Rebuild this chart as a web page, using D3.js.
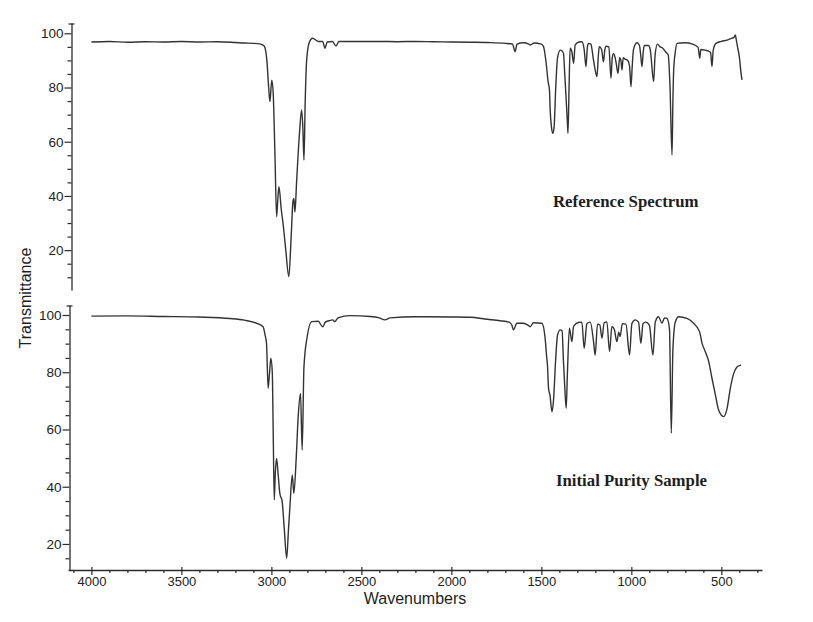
<!DOCTYPE html>
<html>
<head>
<meta charset="utf-8">
<script src="https://cdn.jsdelivr.net/npm/d3@7"></script>
<style>
  html, body { margin: 0; padding: 0; background: #ffffff; }
  svg { display: block; }
</style>
</head>
<body>
<svg id="chart" width="813" height="622"></svg>
<script>
// ---- data: [wavenumber (cm-1), transmittance (%)] ----
const referenceSpectrum = [
  [4000,96.8],[3900,97.0],[3800,96.7],[3700,96.9],[3600,96.8],[3500,97.0],[3400,96.8],[3300,96.9],[3200,96.6],
  [3150,96.4],[3100,96.3],[3060,96.0],[3040,95.3],[3025,90],[3015,80],[3008,74.8],[2998,82.7],[2990,78],
  [2980,55],[2971,32.3],[2963,40],[2958,43.4],[2945,35],[2934,29.2],[2920,20],[2903,10.2],[2890,25],[2880,38],
  [2875,39.1],[2869,34.1],[2860,45],[2845,62],[2832,71.7],[2825,65],[2819,53.2],[2812,75],[2804,90.1],
  [2790,96.5],[2771,98.2],[2740,97],[2715,97],[2702,94.5],[2690,96.8],[2660,97],[2641,95.3],[2625,97],
  [2500,97],[2400,97],[2300,96.9],[2200,97],[2100,96.9],[2000,96.8],[1900,96.7],[1800,96.6],[1700,96.3],
  [1660,96.0],[1646,93.2],[1635,96],[1600,96.5],[1570,96],[1562,95.7],[1540,96.4],[1500,96],[1488,95.1],
  [1475,90],[1462,82],[1455,79.1],[1451,71.7],[1443,65],[1436,63.1],[1429,65.5],[1420,80],[1410,91],
  [1395,93.8],[1385,93.5],[1377,92.6],[1370,85],[1364,77.9],[1356,68],[1352,63.1],[1346,80],[1340,94.5],
  [1330,93],[1321,88.9],[1312,95.7],[1290,96.8],[1275,96.9],[1262,94],[1252,87.7],[1244,95],[1238,96.3],
  [1225,96],[1210,90],[1201,86.5],[1191,84],[1183,92],[1178,95.1],[1165,94],[1155,89.5],[1147,94],[1140,95.2],
  [1125,95],[1113,83.4],[1106,91],[1099,92.5],[1090,91],[1084,88.9],[1074,85.2],[1065,91],[1058,90],
  [1052,86.5],[1045,91],[1035,90.5],[1020,90],[1010,88],[1002,80.3],[995,88],[988,94],[969,96.5],[955,95.5],
  [948,92],[941,87.7],[934,93],[928,95.5],[905,95.5],[895,94],[876,82.2],[868,92],[855,96],[840,95],
  [825,94.5],[808,93],[795,92],[785,80],[774,55.1],[769,75],[765,86],[756,93],[746,96.3],[700,96.5],
  [660,96],[629,94.8],[620,90.8],[614,94],[590,93.8],[560,93],[552,87.7],[545,93.8],[530,96.3],[500,97],
  [468,97.5],[440,98.2],[430,98.5],[422,99.4],[418,98],[410,95],[400,91.4],[390,85],[385,82.8]
];

const puritySample = [
  [4000,99.6],[3800,99.7],[3600,99.5],[3400,99.3],[3231,98.8],[3150,98.2],[3082,97.1],[3046,95.9],[3035,93],
  [3027,90.1],[3018,74.4],[3010,80],[3003,84.9],[2995,80],[2990,60],[2984,35.4],[2978,45],[2971,49.9],
  [2962,44],[2953,37.7],[2940,34.8],[2928,25],[2915,15.0],[2905,25],[2897,33.0],[2884,44.1],[2875,37.7],
  [2862,50],[2851,64.5],[2838,72.6],[2829,52.8],[2819,81.9],[2801,92.4],[2776,97.7],[2740,97.8],[2715,95.9],
  [2700,97.5],[2680,98],[2660,98.3],[2647,97.7],[2630,99],[2563,99.8],[2450,99.5],[2400,99],[2369,98.3],
  [2340,99],[2200,99.4],[2000,99.3],[1896,99.2],[1800,98.5],[1729,98.0],[1680,97.5],[1664,96.5],[1655,94.8],
  [1636,97.1],[1600,97.1],[1575,96.5],[1562,95.9],[1544,97.3],[1497,97.1],[1479,91.9],[1470,85],[1466,82.5],
  [1460,74.4],[1452,72],[1441,66.2],[1433,69.7],[1420,85],[1410,93],[1395,94.8],[1385,94.5],[1377,83.7],
  [1370,75],[1362,67.4],[1355,80],[1344,95.4],[1330,90.7],[1321,96],[1294,97.4],[1275,97.5],[1262,88.4],
  [1247,97],[1228,97.5],[1210,90.7],[1201,86],[1188,96.8],[1175,96.5],[1163,91.9],[1151,97.3],[1136,97.6],
  [1121,87.2],[1108,96],[1095,95],[1080,90.7],[1070,94],[1062,92.5],[1050,97],[1030,96.8],[1010,86],
  [997,97],[978,98.3],[960,97.5],[947,90.1],[935,97],[920,97.5],[900,96.5],[880,86],[867,97.5],[849,99.4],
  [830,97.2],[815,99],[802,98.8],[788,95],[778,58.7],[769,88],[756,97.5],[737,99.4],[691,98.8],[654,97.1],
  [621,94.2],[607,90.1],[589,87.2],[570,83.7],[552,77.9],[533,72.1],[515,66.8],[487,64.5],[468,67.4],
  [450,74.4],[431,79.6],[412,81.9],[400,82.3],[390,82.5]
];

const xTickValues = [4000, 3500, 3000, 2500, 2000, 1500, 1000, 500];
const yTickValues = [20, 40, 60, 80, 100];
const panelLabels = ["Reference Spectrum", "Initial Purity Sample"];
const axisTitles = { x: "Wavenumbers", y: "Transmittance" };

// ---- drawing ----
const svg = d3.select("#chart");
const ink = "#2b2b2b";
const sans = "'Liberation Sans', Arial, Helvetica, sans-serif";
const serif = "'Liberation Serif', 'Times New Roman', serif";

const x = d3.scaleLinear().domain([4130, 274]).range([68, 762]);

const panels = [
  { data: referenceSpectrum, label: panelLabels[0], axisX: 71.5,
    y: d3.scaleLinear().domain([5.3, 103.8]).range([290, 23]), labelPos: [553, 206.5] },
  { data: puritySample, label: panelLabels[1], axisX: 69.5,
    y: d3.scaleLinear().domain([10.9, 103.5]).range([570, 305]), labelPos: [556, 486] }
];

panels.forEach(p => {
  const g = svg.append("g");
  // y axis with ticks every 5, labels every 20
  const minor = d3.range(10, 101, 5).filter(v => v >= p.y.domain()[0]);
  const axis = d3.axisLeft(p.y)
    .tickValues(minor)
    .tickSize(0)
    .tickFormat(d => yTickValues.includes(d) ? d : "");
  const ag = g.append("g").attr("transform", `translate(${p.axisX},0)`).call(axis);
  ag.select(".domain").attr("stroke", ink).attr("stroke-width", 1.3);
  ag.selectAll(".tick line").remove();
  ag.selectAll(".tick").append("line")
    .attr("x1", d => yTickValues.includes(d) ? -7 : -4)
    .attr("x2", 0)
    .attr("stroke", ink).attr("stroke-width", 1.2);
  ag.selectAll(".tick text")
    .attr("x", -8)
    .attr("fill", "#222")
    .style("font-family", sans).style("font-size", "13.5px");
  // small cross tick at the top of the axis
  g.append("line")
    .attr("x1", p.axisX - 3).attr("x2", p.axisX + 3)
    .attr("y1", p.y.range()[1] + 1).attr("y2", p.y.range()[1] + 1)
    .attr("stroke", ink).attr("stroke-width", 1.2);

  // spectrum
  const line = d3.line().x(d => x(d[0])).y(d => p.y(d[1])).curve(d3.curveMonotoneX);
  g.append("path").datum(p.data)
    .attr("d", line)
    .attr("fill", "none")
    .attr("stroke", "#333")
    .attr("stroke-width", 1.4)
    .attr("stroke-linejoin", "round");

  g.append("text")
    .attr("x", p.labelPos[0]).attr("y", p.labelPos[1])
    .attr("fill", "#1e1e1e")
    .style("font-family", serif).style("font-weight", "bold").style("font-size", "16.8px")
    .text(p.label);
});

// x axis
const xg = svg.append("g").attr("transform", "translate(0,570)");
const xAxis = d3.axisBottom(x)
  .tickValues(d3.range(300, 4101, 100))
  .tickSize(0)
  .tickFormat(d => xTickValues.includes(d) ? d : "");
xg.call(xAxis);
xg.select(".domain").attr("stroke", ink).attr("stroke-width", 1.3);
xg.selectAll(".tick line").remove();
xg.selectAll(".tick").append("line")
  .attr("y1", d => xTickValues.includes(d) ? -3 : 0)
  .attr("y2", d => xTickValues.includes(d) ? 5 : 3)
  .attr("stroke", ink).attr("stroke-width", 1.2);
xg.selectAll(".tick text")
  .attr("y", 7)
  .attr("fill", "#222")
  .style("font-family", sans).style("font-size", "13px");

// axis titles
svg.append("text")
  .attr("x", 415).attr("y", 604)
  .attr("text-anchor", "middle")
  .attr("fill", "#1e1e1e")
  .style("font-family", sans).style("font-size", "16px")
  .text(axisTitles.x);

svg.append("text")
  .attr("transform", "translate(31,298) rotate(-90)")
  .attr("text-anchor", "middle")
  .attr("fill", "#1e1e1e")
  .style("font-family", sans).style("font-size", "16px")
  .text(axisTitles.y);
</script>
</body>
</html>
